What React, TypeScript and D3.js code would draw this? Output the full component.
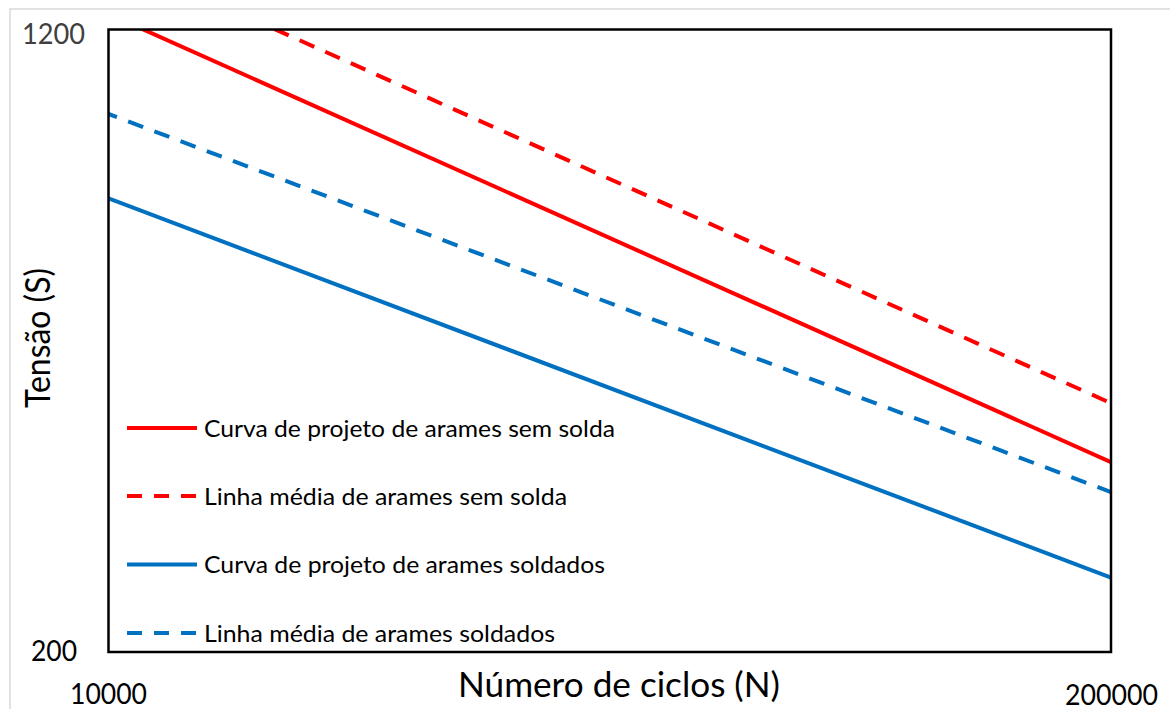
import React from "react";
import * as d3 from "d3";

// S-N design curves on log-log axes
const cycleEnds = [10000, 200000];
const seriesNames = [
  "Curva de projeto de arames sem solda",
  "Linha média de arames sem solda",
  "Curva de projeto de arames soldados",
  "Linha média de arames soldados",
];
const seriesValues = [
  [1255, 345.5],
  [1488, 409.3],
  [738, 247.8],
  [941, 316.9],
];
const seriesColors = ["#FF0000", "#FF0000", "#0070C0", "#0070C0"];
const seriesDashed = [false, true, false, true];
const dashOffsets = [0, 14.6, 0, 7];
const legendWidths = [411, 363, 401, 351];
const xTicks = [10000, 200000];
const yTicks = [200, 1200];

const W = 1170;
const H = 709;
const plot = { left: 108.5, top: 29.5, right: 1111, bottom: 652 };
const FONT = "Lato, 'Open Sans', sans-serif";

export default function App() {
  const x = d3.scaleLog().domain([10000, 200000]).range([plot.left, plot.right]);
  const y = d3.scaleLog().domain([200, 1200]).range([plot.bottom, plot.top]);
  const line = d3
    .line<[number, number]>()
    .x((d) => x(d[0]))
    .y((d) => y(d[1]));

  const legendY = [428, 496, 564.5, 633];

  return (
    <svg
      width={W}
      height={H}
      style={{ position: "absolute", left: 0, top: 0, background: "#fff" }}
    >
      <defs>
        <clipPath id="plotClip">
          <rect
            x={plot.left}
            y={plot.top}
            width={plot.right - plot.left}
            height={plot.bottom - plot.top}
          />
        </clipPath>
      </defs>
      {/* chart frame */}
      <rect x={10} y={9} width={1200} height={760} fill="none" stroke="#d9d9d9" strokeWidth={1.5} />

      {/* series */}
      <g clipPath="url(#plotClip)">
        {seriesValues.map((vals, i) => (
          <path
            key={i}
            d={line(cycleEnds.map((n, j) => [n, vals[j]] as [number, number])) || ""}
            fill="none"
            stroke={seriesColors[i]}
            strokeWidth={4}
            strokeDasharray={seriesDashed[i] ? "16 12" : undefined}
            strokeDashoffset={seriesDashed[i] ? dashOffsets[i] : undefined}
          />
        ))}
      </g>

      {/* plot border */}
      <rect
        x={plot.left}
        y={plot.top}
        width={plot.right - plot.left}
        height={plot.bottom - plot.top}
        fill="none"
        stroke="#000"
        strokeWidth={2.5}
      />

      {/* y tick labels */}
      <text x={85} y={43.5} textAnchor="end" fontFamily={FONT} fontSize={28} fill="#404040" textLength={63} lengthAdjust="spacingAndGlyphs">
        {yTicks[1]}
      </text>
      <text x={77} y={661} textAnchor="end" fontFamily={FONT} fontSize={28} fill="#000" textLength={46} lengthAdjust="spacingAndGlyphs">
        {yTicks[0]}
      </text>

      {/* x tick labels */}
      <text x={x(xTicks[0]) - 38.5} y={703.5} fontFamily={FONT} fontSize={28} fill="#000" textLength={77} lengthAdjust="spacingAndGlyphs">
        {xTicks[0]}
      </text>
      <text x={x(xTicks[1]) - 46} y={704.5} fontFamily={FONT} fontSize={28} fill="#000" textLength={93} lengthAdjust="spacingAndGlyphs">
        {xTicks[1]}
      </text>

      {/* axis titles */}
      <text x={458} y={697} fontFamily={FONT} fontSize={34} fill="#000" textLength={322} lengthAdjust="spacingAndGlyphs">
        Número de ciclos (N)
      </text>
      <text
        transform="translate(49.5,408) rotate(-90)"
        fontFamily={FONT}
        fontSize={34}
        fill="#000"
        textLength={140}
        lengthAdjust="spacingAndGlyphs"
      >
        Tensão (S)
      </text>

      {/* legend */}
      {seriesNames.map((name, i) => (
        <g key={name}>
          <line
            x1={127}
            x2={197}
            y1={legendY[i]}
            y2={legendY[i]}
            stroke={seriesColors[i]}
            strokeWidth={4}
            strokeDasharray={seriesDashed[i] ? "15 12" : undefined}
          />
          <text
            x={204}
            y={legendY[i] + 8.5}
            fontFamily={FONT}
            fontSize={24}
            fill="#000"
            textLength={legendWidths[i]}
            lengthAdjust="spacingAndGlyphs"
          >
            {name}
          </text>
        </g>
      ))}
    </svg>
  );
}
